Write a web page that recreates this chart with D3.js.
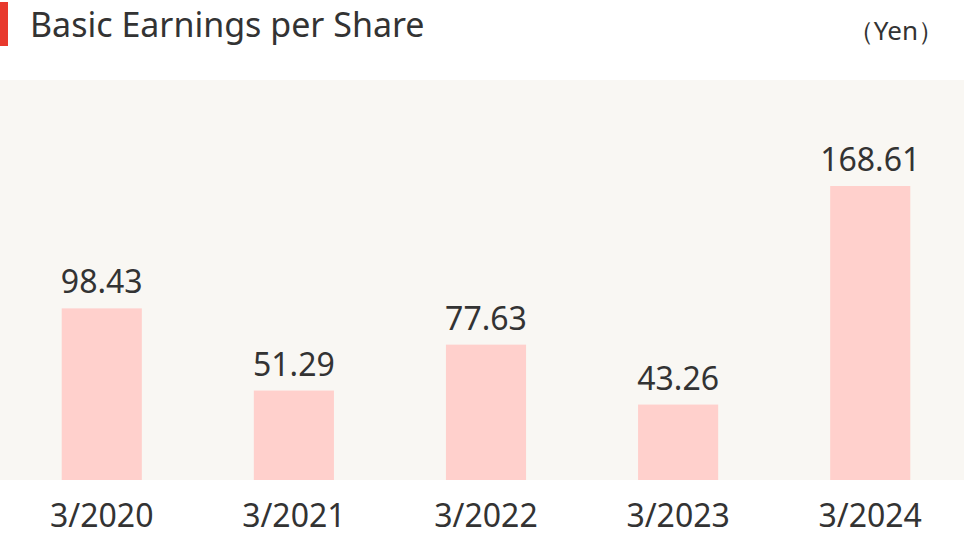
<!DOCTYPE html>
<html><head><meta charset="utf-8">
<script src="https://cdn.jsdelivr.net/npm/d3@7"></script>
<style>body{margin:0;background:#fff}</style>
</head><body>
<div id="chart"></div>
<script>
const width = 964, height = 536;
const years = ["3/2020", "3/2021", "3/2022", "3/2023", "3/2024"];
const values = [98.43, 51.29, 77.63, 43.26, 168.61];
const font = "'Noto Sans', sans-serif";

const svg = d3.select("#chart").append("svg")
  .attr("width", width).attr("height", height);

svg.append("rect").attr("x", 0).attr("y", 2).attr("width", 8).attr("height", 44).attr("fill", "#e8392d");
svg.append("text").attr("x", 30).attr("y", 37).text("Basic Earnings per Share")
  .attr("font-family", font).attr("font-size", 34).attr("fill", "#333");
svg.append("text").attr("x", 944).attr("y", 40).attr("text-anchor", "end").text("（Yen）")
  .attr("font-family", font).attr("font-size", 26).attr("fill", "#333");

const plotTop = 80, base = 480;
svg.append("rect").attr("x", 0).attr("y", plotTop).attr("width", width).attr("height", base - plotTop).attr("fill", "#f9f7f3");

const x = d3.scaleBand().domain(years).range([6, 966]).paddingInner(0.583).paddingOuter(0.29);
const y = d3.scaleLinear().domain([0, 168.61]).range([base, 186]);

svg.selectAll(".bar").data(values).enter().append("rect")
  .attr("x", (d, i) => x(years[i])).attr("width", x.bandwidth())
  .attr("y", d => y(d)).attr("height", d => base - y(d)).attr("fill", "#ffd0cc");

svg.selectAll(".val").data(values).enter().append("text")
  .attr("x", (d, i) => x(years[i]) + x.bandwidth() / 2).attr("y", d => y(d) - 15)
  .attr("text-anchor", "middle").text(d => d.toFixed(2))
  .attr("font-family", font).attr("font-size", 32).attr("fill", "#333");

svg.selectAll(".yr").data(years).enter().append("text")
  .attr("x", d => x(d) + x.bandwidth() / 2).attr("y", 527)
  .attr("text-anchor", "middle").text(d => d)
  .attr("font-family", font).attr("font-size", 32).attr("fill", "#333");
</script>
</body></html>
